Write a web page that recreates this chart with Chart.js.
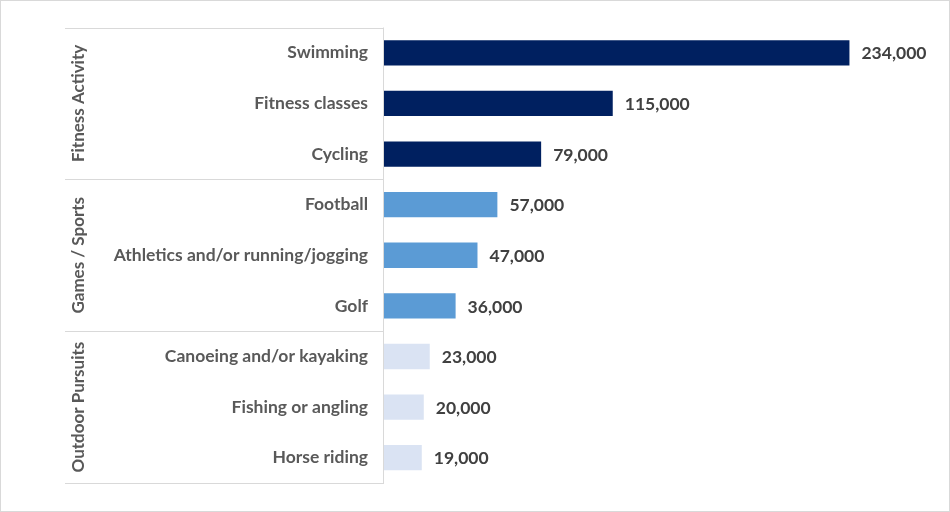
<!DOCTYPE html>
<html>
<head>
<meta charset="utf-8">
<script src="https://cdn.jsdelivr.net/npm/chart.js@4"></script>
<style>
  html, body { margin: 0; padding: 0; background: #fff; }
  #wrap { position: relative; width: 950px; height: 512px; box-sizing: border-box; border: 1px solid #d9d9d9; }
</style>
</head>
<body>
<div id="wrap"><canvas id="grafico" width="948" height="510"></canvas></div>
<script>
const categorias = ['Swimming', 'Fitness classes', 'Cycling', 'Football', 'Athletics and/or running/jogging', 'Golf', 'Canoeing and/or kayaking', 'Fishing or angling', 'Horse riding'];
const valores = [234000, 115000, 79000, 57000, 47000, 36000, 23000, 20000, 19000];
const grupos = ['Fitness Activity', 'Games / Sports', 'Outdoor Pursuits'];
const tamanhoGrupo = [3, 3, 3];
const coresGrupo = ['#002060', '#5B9BD5', '#DAE3F3'];

const FONTE = 'Lato, Calibri, sans-serif';

// cor de cada barra conforme o grupo
const coresBarras = [];
tamanhoGrupo.forEach((n, g) => { for (let i = 0; i < n; i++) coresBarras.push(coresGrupo[g]); });

const rotulosPlugin = {
  id: 'rotulos',
  afterDatasetsDraw(chart) {
    const ctx = chart.ctx;
    const meta = chart.getDatasetMeta(0);
    ctx.save();
    ctx.font = 'bold 17.5px ' + FONTE;
    ctx.fillStyle = '#404040';
    ctx.textAlign = 'left';
    ctx.textBaseline = 'middle';
    meta.data.forEach((bar, i) => {
      ctx.fillText(valores[i].toLocaleString('en-US'), bar.x + 12, bar.y + 1);
    });
    ctx.restore();
  },
  afterDraw(chart) {
    const ctx = chart.ctx;
    const area = chart.chartArea;
    const esquerda = 64;
    const passo = (area.bottom - area.top) / categorias.length;
    ctx.save();
    ctx.strokeStyle = '#d9d9d9';
    ctx.lineWidth = 1;
    ctx.beginPath();
    ctx.moveTo(area.left - 0.5, area.top);
    ctx.lineTo(area.left - 0.5, area.bottom);
    let inicio = 0;
    const linhas = [area.top];
    tamanhoGrupo.forEach(n => { inicio += n; linhas.push(area.top + passo * inicio); });
    linhas.forEach(ly => {
      ctx.moveTo(esquerda, Math.round(ly) + 0.5);
      ctx.lineTo(area.left, Math.round(ly) + 0.5);
    });
    ctx.stroke();

    ctx.font = 'bold 17px ' + FONTE;
    ctx.fillStyle = '#595959';
    ctx.textAlign = 'center';
    ctx.textBaseline = 'middle';
    inicio = 0;
    grupos.forEach((nome, g) => {
      const meio = area.top + passo * (inicio + tamanhoGrupo[g] / 2);
      inicio += tamanhoGrupo[g];
      ctx.save();
      ctx.translate(78, meio);
      ctx.rotate(-Math.PI / 2);
      ctx.fillText(nome, 0, 0);
      ctx.restore();
    });
    ctx.restore();
  }
};

new Chart(document.getElementById('grafico'), {
  type: 'bar',
  data: {
    labels: categorias,
    datasets: [{
      data: valores,
      backgroundColor: coresBarras,
      borderWidth: 0,
      categoryPercentage: 1,
      barPercentage: 0.5
    }]
  },
  options: {
    indexAxis: 'y',
    responsive: false,
    animation: false,
    devicePixelRatio: 1,
    layout: { padding: { top: 26, bottom: 28, left: 0, right: 18 } },
    scales: {
      x: {
        display: false,
        min: 0,
        max: 275000
      },
      y: {
        afterFit(scale) { scale.width = 383; },
        grid: { display: false, drawTicks: false },
        border: { display: false },
        ticks: {
          color: '#595959',
          padding: 16,
          font: { family: FONTE, size: 17.5, weight: 'bold' }
        }
      }
    },
    plugins: {
      legend: { display: false },
      tooltip: { enabled: false }
    }
  },
  plugins: [rotulosPlugin]
});
</script>
</body>
</html>
